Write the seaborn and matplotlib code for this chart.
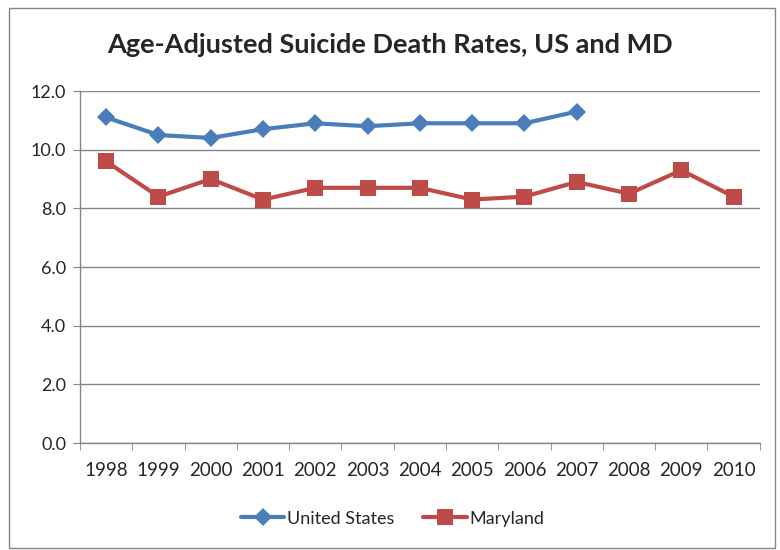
import pandas as pd
import seaborn as sns
import matplotlib.pyplot as plt
import numpy as np
from matplotlib.ticker import FixedLocator

years = [1998, 1999, 2000, 2001, 2002, 2003, 2004, 2005, 2006, 2007, 2008, 2009, 2010]
us_rates = [11.1, 10.5, 10.4, 10.7, 10.9, 10.8, 10.9, 10.9, 10.9, 11.3, np.nan, np.nan, np.nan]
md_rates = [9.6, 8.4, 9.0, 8.3, 8.7, 8.7, 8.7, 8.3, 8.4, 8.9, 8.5, 9.3, 8.4]
series_names = ['United States', 'Maryland']

df = pd.DataFrame({'year': years, series_names[0]: us_rates, series_names[1]: md_rates})
df_long = df.melt(id_vars='year', var_name='series', value_name='rate')

sns.set_style('white')
plt.rcParams['font.family'] = ['Lato', 'DejaVu Sans']

fig = plt.figure(figsize=(7.8, 5.5), dpi=100)
ax = fig.add_axes([0.1026, 0.1945, 0.8714, 0.64])

colors = {'United States': '#4A7EBB', 'Maryland': '#BE4B48'}
markers = {'United States': 'D', 'Maryland': 's'}
sizes = {'United States': 9.5, 'Maryland': 11}

for name in series_names:
    sub = df_long[df_long['series'] == name]
    sns.lineplot(data=sub, x='year', y='rate', ax=ax, color=colors[name],
                 marker=markers[name], markersize=sizes[name], markeredgewidth=0,
                 linewidth=3, label=name)

ax.set_xlim(1997.5, 2010.5)
ax.set_ylim(0, 12)
ax.set_yticks(np.arange(0, 12.1, 2))
ax.set_yticklabels([f'{v:.1f}' for v in np.arange(0, 12.1, 2)], fontsize=13)
ax.set_xticks(years)
ax.set_xticklabels([str(y) for y in years], fontsize=13.5)
ax.xaxis.set_minor_locator(FixedLocator(np.arange(1997.5, 2010.6, 1)))
ax.tick_params(axis='x', which='major', length=0, pad=14)
ax.tick_params(axis='x', which='minor', length=5, color='#868686', direction='out', bottom=True)
ax.tick_params(axis='y', length=5, color='#868686', direction='out', left=True, pad=5)
ax.grid(axis='y', color='#868686', linewidth=1)
ax.set_axisbelow(True)
ax.set_xlabel('')
ax.set_ylabel('')
for s in ['top', 'right']:
    ax.spines[s].set_visible(False)
for s in ['left', 'bottom']:
    ax.spines[s].set_color('#868686')
    ax.spines[s].set_linewidth(1)

fig.suptitle('Age-Adjusted Suicide Death Rates, US and MD', x=0.5, y=0.94,
             fontsize=19.5, fontweight='bold')

ax.legend(loc='center', bbox_to_anchor=(0.46, -0.215), ncol=2, frameon=False,
          fontsize=13, handlelength=2.4, columnspacing=1.6, handletextpad=0.15)

border = plt.Rectangle((0.011, 0.004), 0.982, 0.982, transform=fig.transFigure,
                       fill=False, edgecolor='#868686', linewidth=1)
fig.patches.append(border)

fig.savefig('out.png', dpi=100)
